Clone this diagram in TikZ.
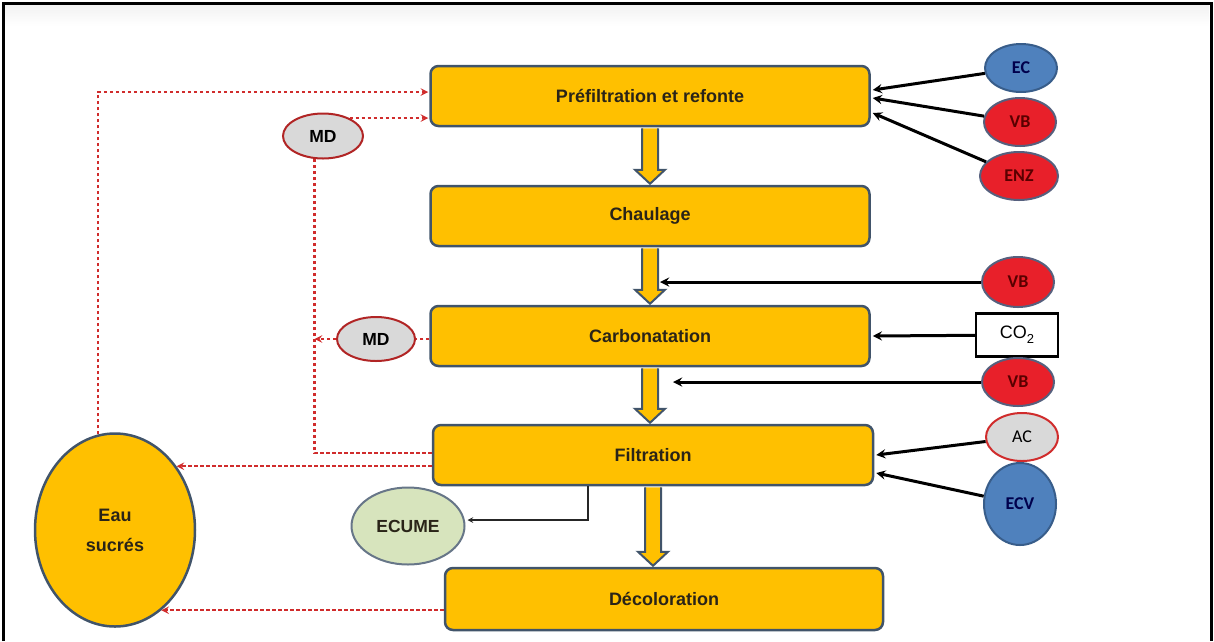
\documentclass[tikz,border=0pt]{standalone}
\usepackage{fontspec}
\setmainfont{Liberation Sans}
\newfontfamily\calibfont{Carlito}
\usetikzlibrary{shapes.geometric, arrows, positioning, calc}
\definecolor{stageyellow}{HTML}{FFC000}
\definecolor{stageedge}{HTML}{41546A}
\definecolor{textdark}{HTML}{2A2418}
\definecolor{inputred}{HTML}{E8202A}
\definecolor{rededge}{HTML}{56607E}
\definecolor{inputblue}{HTML}{4F81BD}
\definecolor{blueedge}{HTML}{385D8A}
\definecolor{mdgray}{HTML}{D9D9D9}
\definecolor{recyclered}{HTML}{D02C2C}
\definecolor{foamgreen}{HTML}{D7E4BD}

% hollow block arrow between two stages
\newcommand{\stagearrow}[2]{%
  \filldraw[flow] ($(#1.south)+(-8,1)$) -- ($(#1.south |- #2.north)+(-8,-15)$) -- ++(-7,0)
    -- ($(#1.south |- #2.north)+(0,-1)$) -- ($(#1.south |- #2.north)+(15,-15)$) -- ++(-7,0)
    -- ($(#1.south)+(8,1)$);
}

\begin{document}
\begin{tikzpicture}[
    x=1pt, y=-1pt,
    stage/.style={rectangle, draw=stageedge, fill=stageyellow, line width=2.5pt, rounded corners=8pt,
        minimum width=439pt, minimum height=60pt, font=\fontsize{18}{21}\selectfont\bfseries, text=textdark},
    flow/.style={fill=stageyellow, draw=stageedge, line width=2pt},
    ball/.style={ellipse, inner sep=0pt, minimum width=72pt, minimum height=48pt, line width=2pt},
    redball/.style={ball, fill=inputred, draw=rededge, text=red!35!black, font=\calibfont\fontsize{18}{20}\selectfont\bfseries},
    blueball/.style={ball, fill=inputblue, draw=blueedge, text=blue!30!black, font=\calibfont\fontsize{18}{20}\selectfont\bfseries},
    grayball/.style={ball, fill=mdgray, draw=recyclered, text=black, font=\calibfont\fontsize{18}{20}\selectfont},
    mdball/.style={ball, minimum width=80pt, minimum height=45pt, fill=mdgray, draw=recyclered!85!black, font=\fontsize{17.5}{20}\selectfont\bfseries},
    gasbox/.style={rectangle, draw=black, fill=white, line width=2.4pt, minimum width=82pt, minimum height=43pt, font=\fontsize{18}{20}\selectfont},
    arrow/.style={->, >=stealth, line width=3pt},
    recycle/.style={draw=recyclered, line width=2.3pt, dash pattern=on 3.5pt off 2.5pt, >=stealth},
    scum/.style={->, >=stealth, line width=1.5pt, draw=black!85}
]
\useasboundingbox (0,0) rectangle (1214,641);
\shade[top color=gray!10, bottom color=white] (5,5) rectangle (1209,26);
\draw[line width=3pt] (3,641) -- (3,3) -- (1211,3) -- (1211,641);

\node[stage] (pre) at (650,96) {Préfiltration et refonte};
\node[stage] (chaul) at (650,216) {Chaulage};
\node[stage] (carb) at (650,336) {Carbonatation};
\node[stage, minimum width=440pt] (filt) at (653,455) {Filtration};
\node[stage, minimum width=438pt, minimum height=62pt] (deco) at (664,599) {Décoloration};

\stagearrow{pre}{chaul}
\stagearrow{chaul}{carb}
\stagearrow{carb}{filt}
\stagearrow{filt}{deco}

\node[blueball] (ec) at (1021,68) {EC};
\node[redball] (vba) at (1020,122) {VB};
\node[redball, minimum width=78pt] (enz) at (1019,176) {ENZ};
\node[redball, minimum height=50pt] (vbb) at (1018,282) {VB};
\node[gasbox] (co2) at (1017,335) {CO\raisebox{-5pt}{\fontsize{13}{13}\selectfont 2}};
\node[redball] (vbc) at (1018,382) {VB};
\node[grayball] (ac) at (1022,437) {AC};
\node[blueball, minimum height=82pt] (ecv) at (1020,504) {ECV};

\coordinate (vbin1) at (660,282);
\coordinate (vbin2) at (673,382);

\draw[arrow] (ec) -- ($(pre.east)+(2,-6)$);
\draw[arrow] (vba) -- ($(pre.east)+(2,2)$);
\draw[arrow] (enz) -- ($(pre.east)+(2,17)$);
\draw[arrow] (vbb) -- (vbin1);
\draw[arrow] (co2) -- ($(carb.east)+(2,0)$);
\draw[arrow] (vbc) -- (vbin2);
\draw[arrow] (ac) -- ($(filt.east)+(2,0)$);
\draw[arrow] (ecv) -- ($(filt.east)+(2,18)$);

\node[mdball] (mda) at (323,136) {MD};
\node[mdball, minimum width=78pt, minimum height=44pt] (mdb) at (376,339) {MD};
\node[ellipse, draw=stageedge, fill=stageyellow, line width=2.5pt, minimum width=160pt, minimum height=193pt,
    align=center, font=\fontsize{18}{21}\selectfont\bfseries, text=textdark] (eau) at (115,530) {Eau\\[9pt]sucrés};
\node[ellipse, draw=stageedge!80, fill=foamgreen, line width=2pt, minimum width=113pt, minimum height=77pt,
    font=\fontsize{17.5}{20}\selectfont\bfseries, text=textdark] (ecume) at (408,526) {ECUME};

\draw[recycle, ->] (eau.100) |- ($(pre.west)+(-1,-4)$);
\draw[recycle, ->] (mda.34) -- ($(pre.west |- mda.34)+(-1,0)$);
\draw[recycle] ($(filt.west)+(0,-2)$) -| (mda.250);
\draw[recycle] (carb.west |- mdb.east) -- (mdb.east);
\draw[recycle, ->] (mdb.west) -- (mdb.west -| mda.250);
\draw[recycle, ->] (filt.west |- eau.46) -- (eau.46);
\draw[recycle, ->] (deco.west |- eau.-60) -- (eau.-60);

\draw[scum] ($(filt.south)+(-65,0)$) |- ($(ecume.east)+(2,-6)$);

\end{tikzpicture}
\end{document}
